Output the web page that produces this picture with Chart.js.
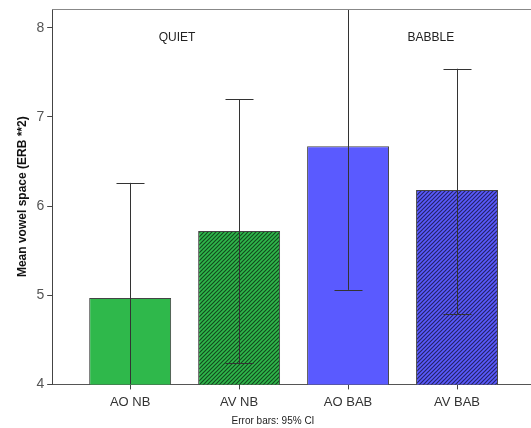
<!DOCTYPE html>
<html><head><meta charset="utf-8">
<script src="https://cdn.jsdelivr.net/npm/chart.js@4/dist/chart.umd.min.js"></script>
<style>html,body{margin:0;padding:0;background:#fff;}#wrap{width:531px;height:428px;position:relative;}</style>
</head><body><div id="wrap"><canvas id="c" width="531" height="428"></canvas></div>
<script>
const categories = ['AO NB', 'AV NB', 'AO BAB', 'AV BAB'];
const means = [4.97, 5.72, 6.67, 6.18];
const ciLower = [3.68, 4.24, 5.06, 4.79];
const ciUpper = [6.26, 7.20, 8.30, 7.54];
const hatched = [false, true, false, true];
const groupLabels = ['QUIET', 'BABBLE'];
const groupPositions = [1.43, 3.76];
const yTicks = [4, 5, 6, 7, 8];
const footnote = 'Error bars: 95% CI';

const GREEN = '#2fb84b', BLUE = '#5a5aff';
const baseColors = [GREEN, GREEN, BLUE, BLUE];

function hatch(color) {
  const s = 4;
  const c = document.createElement('canvas');
  c.width = s; c.height = s;
  const g = c.getContext('2d');
  g.fillStyle = color; g.fillRect(0, 0, s, s);
  g.strokeStyle = 'rgba(0,0,0,0.6)'; g.lineWidth = 1.2;
  g.beginPath();
  g.moveTo(0, s); g.lineTo(s, 0);
  g.moveTo(-1, 1); g.lineTo(1, -1);
  g.moveTo(s - 1, s + 1); g.lineTo(s + 1, s - 1);
  g.stroke();
  return document.createElement('canvas').getContext('2d').createPattern(c, 'repeat');
}
const fills = baseColors.map((c, i) => hatched[i] ? hatch(c) : c);

const errorBars = {
  id: 'errorBars',
  afterDatasetsDraw(chart) {
    const ctx = chart.ctx, xs = chart.scales.x, ys = chart.scales.y, a = chart.chartArea;
    ctx.save();
    ctx.beginPath(); ctx.rect(a.left, a.top - 1, a.right - a.left, a.bottom - a.top + 1); ctx.clip();
    ctx.strokeStyle = '#333'; ctx.lineWidth = 1;
    means.forEach((m, i) => {
      const x = Math.round(xs.getPixelForValue(i + 1)) + 0.5;
      const yl = ys.getPixelForValue(Math.max(ciLower[i], ys.min));
      const yu = ys.getPixelForValue(Math.min(ciUpper[i], ys.max));
      ctx.beginPath(); ctx.moveTo(x, yl); ctx.lineTo(x, yu); ctx.stroke();
      const hw = 14;
      if (ciLower[i] >= ys.min) { const y = Math.round(yl) + 0.5; ctx.beginPath(); ctx.moveTo(x - hw, y); ctx.lineTo(x + hw, y); ctx.stroke(); }
      const y2 = Math.round(yu) + 0.5; ctx.beginPath(); ctx.moveTo(x - hw, y2); ctx.lineTo(x + hw, y2); ctx.stroke();
    });
    ctx.restore();
    ctx.save();
    ctx.strokeStyle = '#888'; ctx.lineWidth = 1;
    ctx.beginPath(); ctx.moveTo(a.left, Math.round(a.top) + 0.5); ctx.lineTo(a.right, Math.round(a.top) + 0.5); ctx.stroke();
    ctx.fillStyle = '#222'; ctx.font = '12px "Liberation Sans", Arial, sans-serif';
    ctx.textAlign = 'center'; ctx.textBaseline = 'middle';
    groupLabels.forEach((t, i) => ctx.fillText(t, xs.getPixelForValue(groupPositions[i]), 38));
    ctx.font = '10px "Liberation Sans", Arial, sans-serif'; ctx.fillStyle = '#222';
    ctx.fillText(footnote, 273, 421);
    ctx.restore();
  }
};

new Chart(document.getElementById('c'), {
  type: 'bar',
  data: {
    datasets: [{
      data: means.map((v, i) => ({ x: i + 1, y: v })),
      backgroundColor: fills,
      borderColor: '#444',
      borderWidth: 1,
      borderSkipped: false,
      barPercentage: 0.752,
      categoryPercentage: 1
    }]
  },
  options: {
    responsive: false,
    animation: false,
    layout: { padding: { left: 15, right: 0, top: 9, bottom: 13 } },
    plugins: { legend: { display: false }, tooltip: { enabled: false } },
    scales: {
      x: {
        type: 'linear',
        offset: false,
        min: 0.2844, max: 4.679,
        afterBuildTicks(s) { s.ticks = categories.map((c, i) => ({ value: i + 1 })); },
        ticks: {
          callback: (v) => categories[v - 1] || '',
          color: '#333', font: { size: 13, family: '"Liberation Sans", Arial, sans-serif' },
          padding: 5, maxRotation: 0, autoSkip: false
        },
        grid: { display: true, offset: false, drawOnChartArea: false, drawTicks: true, tickLength: 5, color: '#444' },
        border: { display: true, color: '#555', width: 1 }
      },
      y: {
        min: 4, max: 8.21,
        afterFit(s) { s.paddingTop = 0; },
        afterBuildTicks(s) { s.ticks = yTicks.map(v => ({ value: v })); },
        ticks: { color: '#555', font: { size: 14, family: '"Liberation Sans", Arial, sans-serif' }, padding: 3 },
        grid: { display: true, drawOnChartArea: false, drawTicks: true, tickLength: 5, color: '#444' },
        border: { display: true, color: '#444', width: 1 },
        title: { display: true, text: 'Mean vowel space (ERB **2)', color: '#111',
                 font: { size: 12, weight: 'bold', family: '"Liberation Sans", Arial, sans-serif' }, padding: { top: 0, bottom: 4 } }
      }
    }
  },
  plugins: [errorBars]
});
</script></body></html>
